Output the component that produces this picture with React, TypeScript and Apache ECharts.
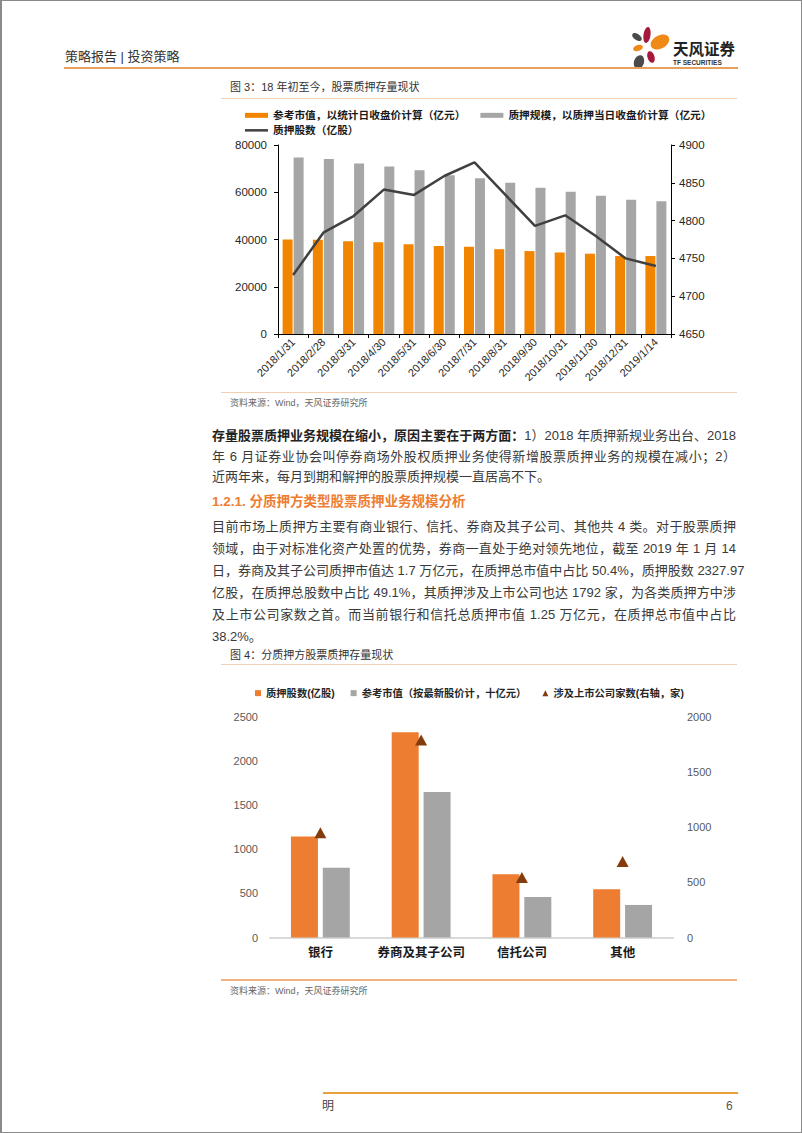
import React, { useEffect, useRef } from "react";
import * as echarts from "echarts";

// ---------- Chart 1 data ----------
const dates1 = [
  "2018/1/31", "2018/2/28", "2018/3/31", "2018/4/30", "2018/5/31", "2018/6/30",
  "2018/7/31", "2018/8/31", "2018/9/30", "2018/10/31", "2018/11/30", "2018/12/31", "2019/1/14",
];
const marketValue1 = [40000, 39900, 39300, 38800, 38000, 37300, 36900, 35900, 35100, 34500, 34000, 33000, 33000];
const pledgeScale1 = [74700, 74100, 72200, 70900, 69300, 67200, 65900, 64000, 61900, 60200, 58500, 56800, 56200];
const pledgeShares1 = [4728, 4784, 4806, 4841, 4834, 4859, 4877, 4835, 4793, 4807, 4780, 4750, 4740];
const s1Names = ["参考市值，以统计日收盘价计算（亿元）", "质押规模，以质押当日收盘价计算（亿元）", "质押股数（亿股）"];

// ---------- Chart 2 data ----------
const pledgers = ["银行", "券商及其子公司", "信托公司", "其他"];
const pledgedShares2 = [1145, 2328, 718, 547];
const refMarketValue2 = [790, 1650, 460, 369];
const companies2 = [950, 1792, 544, 689];
const s2Names = ["质押股数(亿股)", "参考市值（按最新股价计，十亿元）", "涉及上市公司家数(右轴，家)"];

const FONT = "'Liberation Sans', 'Noto Sans CJK SC', sans-serif";
const plain = (v: number) => String(v);

function buildOption(): any {
  const axisBlack = { lineStyle: { color: "#000", width: 1 } };
  return {
    animation: false,
    backgroundColor: "transparent",
    textStyle: { fontFamily: FONT },
    legend: [
      {
        data: [s1Names[0], s1Names[1]],
        left: 240, top: 105, icon: "rect", itemWidth: 23, itemHeight: 5, itemGap: 15,
        textStyle: { fontSize: 10.7, fontWeight: "bold", color: "#1a1a1a", fontFamily: FONT },
      },
      {
        data: [{ name: s1Names[2], icon: "rect" }],
        left: 240, top: 120, itemWidth: 23, itemHeight: 2.5,
        textStyle: { fontSize: 10.7, fontWeight: "bold", color: "#1a1a1a", fontFamily: FONT },
      },
      {
        data: [
          { name: s2Names[0], icon: "rect" },
          { name: s2Names[1], icon: "rect" },
          { name: s2Names[2], icon: "triangle" },
        ],
        left: 250, top: 683, itemWidth: 6, itemHeight: 6, itemGap: 16,
        textStyle: { fontSize: 10.3, fontWeight: "bold", color: "#262626", fontFamily: FONT },
      },
    ],
    grid: [
      { left: 278, top: 145, width: 393, height: 189 },
      { left: 270, top: 717, width: 403, height: 220.5 },
    ],
    xAxis: [
      {
        type: "category", gridIndex: 0, data: dates1,
        axisLine: axisBlack,
        axisTick: { show: true, length: 4, lineStyle: { color: "#000" } },
        axisLabel: { rotate: 45, interval: 0, fontSize: 11, color: "#262626", margin: 6, fontFamily: FONT },
      },
      {
        type: "category", gridIndex: 1, data: pledgers,
        axisLine: { lineStyle: { color: "#d9d9d9", width: 2 } },
        axisTick: { show: false },
        axisLabel: { interval: 0, fontSize: 12.5, fontWeight: "bold", color: "#1a1a1a", margin: 9, fontFamily: FONT },
      },
    ],
    yAxis: [
      {
        type: "value", gridIndex: 0, position: "left", min: 0, max: 80000, interval: 20000,
        axisLine: { show: true, ...axisBlack },
        axisTick: { show: true, length: 4, lineStyle: { color: "#000" } },
        splitLine: { show: false },
        axisLabel: { fontSize: 11.5, color: "#262626", margin: 11, fontFamily: FONT, formatter: plain },
      },
      {
        type: "value", gridIndex: 0, position: "right", min: 4650, max: 4900, interval: 50,
        axisLine: { show: true, ...axisBlack },
        axisTick: { show: true, length: 4, lineStyle: { color: "#000" } },
        splitLine: { show: false },
        axisLabel: { fontSize: 11.5, color: "#262626", margin: 8, fontFamily: FONT, formatter: plain },
      },
      {
        type: "value", gridIndex: 1, position: "left", min: 0, max: 2500, interval: 500,
        axisLine: { show: false }, axisTick: { show: false }, splitLine: { show: false },
        axisLabel: { fontSize: 11, color: "#595959", margin: 12, fontFamily: FONT, formatter: plain },
      },
      {
        type: "value", gridIndex: 1, position: "right", min: 0, max: 2000, interval: 500,
        axisLine: { show: false }, axisTick: { show: false }, splitLine: { show: false },
        axisLabel: { fontSize: 11, color: "#595959", margin: 14, fontFamily: FONT, formatter: plain },
      },
    ],
    series: [
      {
        name: s1Names[0], type: "bar", xAxisIndex: 0, yAxisIndex: 0, data: marketValue1,
        barWidth: 10, barGap: "10%", itemStyle: { color: "#f28500" },
      },
      {
        name: s1Names[1], type: "bar", xAxisIndex: 0, yAxisIndex: 0, data: pledgeScale1,
        barWidth: 10, barGap: "10%", itemStyle: { color: "#a6a6a6" },
      },
      {
        name: s1Names[2], type: "line", xAxisIndex: 0, yAxisIndex: 1, data: pledgeShares1,
        symbol: "none", showSymbol: false, lineStyle: { color: "#404040", width: 2.5 },
        itemStyle: { color: "#404040" },
      },
      {
        name: s2Names[0], type: "bar", xAxisIndex: 1, yAxisIndex: 2, data: pledgedShares2,
        barWidth: 27, barGap: "18%", itemStyle: { color: "#ed7d31" },
      },
      {
        name: s2Names[1], type: "bar", xAxisIndex: 1, yAxisIndex: 2, data: refMarketValue2,
        barWidth: 27, barGap: "18%", itemStyle: { color: "#a5a5a5" },
      },
      {
        name: s2Names[2], type: "scatter", xAxisIndex: 1, yAxisIndex: 3, data: companies2,
        symbol: "triangle", symbolSize: [12, 11], itemStyle: { color: "#843c0c", opacity: 1 },
      },
    ],
    graphic: [
      // logo petals
      { type: "ellipse", x: 637, y: 37, rotation: -0.6, shape: { cx: 0, cy: 0, rx: 5.5, ry: 3 }, style: { fill: "#4a4a4a" } },
      { type: "ellipse", x: 647, y: 35, rotation: -0.15, shape: { cx: 0, cy: 0, rx: 3.5, ry: 8 }, style: { fill: "#a6193c" } },
      { type: "ellipse", x: 660, y: 42, rotation: 0.5, shape: { cx: 0, cy: 0, rx: 10, ry: 6.5 }, style: { fill: "#ef8a17" } },
      { type: "ellipse", x: 638, y: 48, rotation: 0.3, shape: { cx: 0, cy: 0, rx: 5, ry: 3 }, style: { fill: "#ef8a17" } },
      { type: "ellipse", x: 651, y: 57, rotation: 0.3, shape: { cx: 0, cy: 0, rx: 3.5, ry: 6 }, style: { fill: "#a6193c" } },
      { type: "ellipse", x: 639, y: 62, rotation: -0.3, shape: { cx: 0, cy: 0, rx: 5, ry: 7 }, style: { fill: "#4a4a4a" } },
      {
        type: "text", x: 673, y: 48,
        style: { text: "天风证券", fill: "#222", font: "bold 15.5px 'Noto Sans CJK SC', sans-serif", textVerticalAlign: "middle" },
      },
      {
        type: "text", x: 673, y: 62.5,
        style: { text: "TF SECURITIES", fill: "#333", font: "bold 6.5px 'Liberation Sans', sans-serif", textVerticalAlign: "middle" },
      },
    ],
  };
}

type TP = { x: number; y: number; size: number; color?: string; bold?: boolean; width?: number; children: any; lh?: number };
const T = ({ x, y, size, color = "#333", bold, width, children, lh = 20 }: TP) => (
  <div
    style={{
      position: "absolute", left: x, top: y - lh / 2, lineHeight: lh + "px", height: lh,
      fontSize: size, color, fontWeight: bold ? "bold" : "normal", fontFamily: FONT,
      whiteSpace: "nowrap",
      ...(width ? { width, textAlign: "justify", textAlignLast: "justify" } : {}),
    } as any}
  >
    {children}
  </div>
);

const HLine = ({ x1, x2, y, h, color }: { x1: number; x2: number; y: number; h: number; color: string }) => (
  <div style={{ position: "absolute", left: x1, top: y - h / 2, width: x2 - x1, height: h, background: color }} />
);

export default function App() {
  const ref = useRef<HTMLDivElement>(null);
  useEffect(() => {
    if (!ref.current) return;
    const chart = echarts.init(ref.current, undefined, { renderer: "svg" });
    chart.setOption(buildOption());
    return () => chart.dispose();
  }, []);

  const PW = 524;
  const px = 212;
  const pc = "#3a3a3a";
  return (
    <div style={{ position: "fixed", left: 0, top: 0, width: 802, height: 1133, background: "#fff", overflow: "hidden" }}>
      <div ref={ref} style={{ position: "absolute", left: 0, top: 0, width: 802, height: 1133 }} />
      {/* header */}
      <T x={65} y={57} size={13} color="#333">策略报告 | 投资策略</T>
      <HLine x1={64} x2={738} y={68} h={2} color="#e6a15c" />
      {/* figure 3 */}
      <T x={230} y={87} size={11} color="#333">图 3：18 年初至今，股票质押存量现状</T>
      <HLine x1={221} x2={737} y={98} h={1} color="#f5cfb0" />
      <HLine x1={221} x2={737} y={392} h={1} color="#f5cfb0" />
      <T x={230} y={403} size={9} color="#666">资料来源：Wind，天风证券研究所</T>
      {/* paragraph 1 */}
      <T x={px} y={436} size={13} color={pc} width={PW}>
        <b style={{ color: "#222" }}>存量股票质押业务规模在缩小，原因主要在于两方面：</b>1）2018 年质押新规业务出台、2018
      </T>
      <T x={px} y={457} size={13} color={pc} width={PW}>
        年 6 月证券业协会叫停券商场外股权质押业务使得新增股票质押业务的规模在减小；2）
      </T>
      <T x={px} y={477} size={13} color={pc}>近两年来，每月到期和解押的股票质押规模一直居高不下。</T>
      {/* heading */}
      <T x={px} y={502} size={13.5} color="#ed7d31" bold>1.2.1. 分质押方类型股票质押业务规模分析</T>
      {/* paragraph 2 */}
      <T x={px} y={527} size={13} color={pc} width={PW}>
        目前市场上质押方主要有商业银行、信托、券商及其子公司、其他共 4 类。对于股票质押
      </T>
      <T x={px} y={549} size={13} color={pc} width={PW}>
        领域，由于对标准化资产处置的优势，券商一直处于绝对领先地位，截至 2019 年 1 月 14
      </T>
      <T x={px} y={571} size={13} color={pc} width={PW}>
        日，券商及其子公司质押市值达 1.7 万亿元，在质押总市值中占比 50.4%，质押股数 2327.97
      </T>
      <T x={px} y={593} size={13} color={pc} width={PW}>
        亿股，在质押总股数中占比 49.1%，其质押涉及上市公司也达 1792 家，为各类质押方中涉
      </T>
      <T x={px} y={615} size={13} color={pc} width={PW}>
        及上市公司家数之首。而当前银行和信托总质押市值 1.25 万亿元，在质押总市值中占比
      </T>
      <T x={px} y={637} size={13} color={pc}>38.2%。</T>
      {/* figure 4 */}
      <T x={230} y={655} size={11} color="#333">图 4：分质押方股票质押存量现状</T>
      <HLine x1={221} x2={737} y={664} h={1} color="#f5cfb0" />
      <HLine x1={221} x2={737} y={980} h={1.5} color="#f2b080" />
      <T x={230} y={991} size={9} color="#666">资料来源：Wind，天风证券研究所</T>
      {/* footer */}
      <HLine x1={323} x2={738} y={1093} h={2.5} color="#e8a03a" />
      <T x={322} y={1106} size={12} color="#444">明</T>
      <T x={726} y={1106} size={12} color="#555">6</T>
      {/* page border */}
      <div style={{ position: "absolute", left: 0, top: 0, width: 802, height: 1133, boxSizing: "border-box", border: "1px solid #8a8a8a", borderLeftWidth: 2, pointerEvents: "none" }} />
    </div>
  );
}
